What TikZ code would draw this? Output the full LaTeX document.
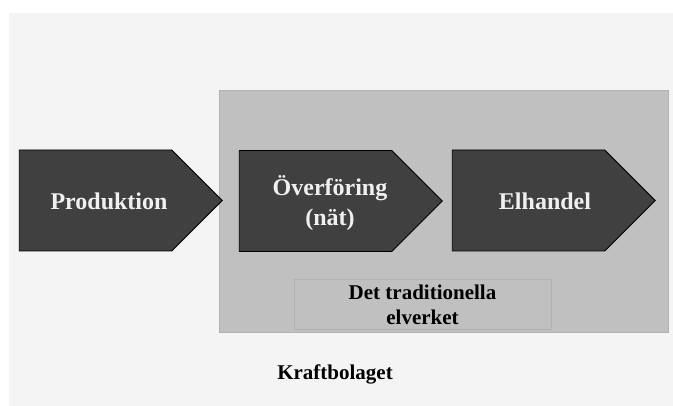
\documentclass[tikz,border=0pt]{standalone}
\usepackage{fontspec}
\setmainfont{Liberation Serif}
\usetikzlibrary{shapes.symbols}

\definecolor{bakgrund}{HTML}{F4F4F4}
\definecolor{ram}{HTML}{C0C0C0}
\definecolor{ramkant}{HTML}{B2B2B2}
\definecolor{pilfarg}{HTML}{404040}

\begin{document}
\begin{tikzpicture}[x=1pt,y=-1pt,
        pil/.style={signal, signal to=east, signal pointer angle=90, draw=black, line width=0.9pt,
            fill=pilfarg, minimum width=203pt, minimum height=101pt, inner sep=0pt},
        piltext/.style={text=white!94!black, font=\fontsize{24}{30}\selectfont\bfseries, align=center},
        svart/.style={font=\fontsize{21}{25}\selectfont\bfseries, align=center}
    ]
        \useasboundingbox (0,0) rectangle (673,406);
        \fill[bakgrund] (9,13) rectangle (673,406);
        % grå ram kring elverket
        \node[draw=ramkant, fill=ram, line width=1pt, minimum width=449pt, minimum height=242pt] (kraft) at (443.5,212) {};
        \node[draw=ramkant, fill=ram, line width=1pt, minimum width=257pt, minimum height=50pt] (elverk) at (422.5,305) {};
        \node[svart] (elverktext) at (422.5,305) {Det traditionella\\elverket};
        % pilarna (mitten = rektangelns mitt)
        \node[pil] (prod) at (95.5,200.5) {};
        \node[pil] (overf) at (315.5,201) {};
        \node[pil] (handel) at (528.5,200.5) {};
        \node[piltext] (prodtext) at (109,201) {Produktion};
        \node[piltext] (overftext) at (330,203) {Överföring\\(nät)};
        \node[piltext] (handeltext) at (545,201) {Elhandel};
        \node[svart] (bolag) at (335,374) {Kraftbolaget};
    \end{tikzpicture}
\end{document}
